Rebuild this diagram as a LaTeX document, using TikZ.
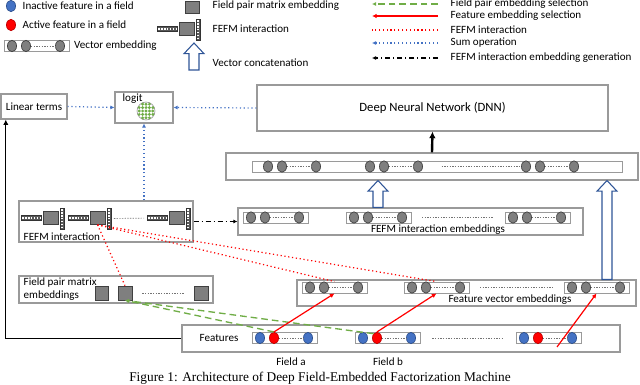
\documentclass[tikz,border=0pt]{standalone}
\usepackage{fontspec}
\setmainfont{Carlito}
\newfontfamily\capfont{Liberation Serif}
\usetikzlibrary{arrows.meta,positioning,shapes.geometric,fit,calc}
\definecolor{Inact}{HTML}{4472C4}
\definecolor{InactD}{HTML}{2F528F}
\definecolor{Act}{HTML}{FF0000}
\definecolor{ActD}{HTML}{C00000}
\definecolor{Emb}{HTML}{7F7F7F}
\definecolor{EmbD}{HTML}{404040}
\definecolor{Frame}{HTML}{9A9A9A}
\definecolor{Sum}{HTML}{4472C4}
\definecolor{Pair}{HTML}{70AD47}
\definecolor{Concat}{HTML}{2F5597}

% three circles of a vector embedding: name, left x, centre y, circle styles
\newcommand{\embcircles}[6]{%
  \node[#4] (#1-1) at (#2+8,#3) {};
  \node[#5] (#1-2) at (#2+22,#3) {};
  \node[#6] (#1-3) at (#2+56,#3) {};
  \draw[gapline] (#1-2) -- (#1-3);
}
% same, inside its own small box
\newcommand{\embgroup}[6]{%
  \node[grpbox,fit={(#2,#3-5.5) (#2+65,#3+5.5)}] (#1) {};
  \embcircles{#1}{#2}{#3}{#4}{#5}{#6}
}
% vector - matrix - vector icon
\newcommand{\fefmicon}[3]{%
  \node[vecbar,fit={(#2,#3-2.5) (#2+20,#3+2.5)}] (#1-bar) {};
  \draw[bardots] (#1-bar.west) -- (#1-bar.east);
  \node[matsq,fit={(#2+22,#3-6.5) (#2+37,#3+6.5)}] (#1-sq) {};
  \node[vecbar,fit={(#2+39,#3-10) (#2+43,#3+11)}] (#1-vb) {};
  \draw[bardots] (#1-vb.north) -- (#1-vb.south);
}
% hollow up arrow from #1 to #2
\newcommand{\blockarrow}[2]{%
  \draw[concat] let \p1=(#1), \p2=(#2) in
    (\x1-3.75pt,\y1) -- (\x1-3.75pt,\y2-8pt) -- (\x1-7.5pt,\y2-8pt) -- (\x2,\y2)
    -- (\x1+7.5pt,\y2-8pt) -- (\x1+3.75pt,\y2-8pt) -- (\x1+3.75pt,\y1) -- cycle;
}

\begin{document}
\begin{tikzpicture}[x=0.75pt,y=-0.75pt,
    every node/.style={font=\fontsize{8.3}{9.8}\selectfont},
    box/.style={draw=Frame,line width=0.8pt,inner sep=0},
    grpbox/.style={draw=Frame,fill=white,line width=0.6pt,inner sep=0},
    dot/.style={ellipse,minimum width=6.8pt,minimum height=8.6pt,inner sep=0,line width=0.5pt},
    inact/.style={dot,draw=InactD,fill=Inact},
    act/.style={dot,draw=ActD,fill=Act},
    emb/.style={dot,draw=EmbD,fill=Emb},
    matsq/.style={draw=EmbD,fill=Emb,line width=0.5pt,inner sep=0},
    vecbar/.style={draw=black!80,fill=black!65,line width=0.4pt,inner sep=0},
    bardots/.style={white,line width=1.2pt,dash pattern=on 1.2pt off 1pt,shorten <=1pt,shorten >=1pt},
    gapline/.style={black!55,line width=0.5pt,dash pattern=on 1pt off 1pt},
    concat/.style={draw=Concat,fill=white,line width=0.8pt},
    pairsel/.style={Pair,line width=1pt,dash pattern=on 5pt off 3pt,-{Latex[length=3pt,width=3pt]}},
    featsel/.style={Act,line width=0.9pt,-{Latex[length=3.5pt,width=3.5pt]}},
    fefmint/.style={Act,line width=0.9pt,dotted},
    sumop/.style={Sum,line width=0.9pt,dotted,-{Latex[length=3pt,width=3pt]}},
    fiegen/.style={black,line width=0.9pt,dash pattern=on 4pt off 2pt on 1pt off 2pt,-{Latex[length=3pt,width=3pt]}},
    todnn/.style={black,line width=1.8pt,-{Latex[length=5pt,width=5pt]}},
    linear/.style={black,line width=0.8pt,-{Latex[length=4pt,width=4pt]}}
  ]
  \useasboundingbox (0,0) rectangle (640,385);

  % legend, left
  \node[inact] (lg-inact) at (11,6) {};
  \node[anchor=west] (lg-inact-t) at (18,6) {Inactive feature in a field};
  \node[act] (lg-act) at (11,25) {};
  \node[anchor=west] (lg-act-t) at (18,25) {Active feature in a field};
  \embgroup{lg-vec}{4}{46}{emb}{emb}{emb}
  \node[anchor=west] (lg-vec-t) at (lg-vec.east) {Vector embedding};
  \node[matsq,fit={(185,1) (199,13)}] (lg-mat) {};
  \node[anchor=west] (lg-mat-t) at (208,6) {Field pair matrix embedding};
  \fefmicon{lg-fefm}{157}{29}
  \node[anchor=west] (lg-fefm-t) at (208,29) {FEFM interaction};
  \coordinate (lg-cat-a) at (194,70);
  \coordinate (lg-cat-b) at (194,43);
  \blockarrow{lg-cat-a}{lg-cat-b}
  \node[anchor=west] (lg-cat-t) at (208,63) {Vector concatenation};

  % legend, right
  \foreach \i/\y in {1/4,2/16,3/30,4/43,5/58} {
    \coordinate (ls\i) at (372,\y);
    \coordinate (le\i) at (438,\y);
  }
  \draw[pairsel] (le1) -- (ls1);
  \draw[featsel] (le2) -- (ls2);
  \draw[fefmint] (le3) -- (ls3);
  \draw[sumop] (le4) -- (ls4);
  \draw[fiegen] (le5) -- (ls5);
  \node[anchor=west,right=6pt of le1] (lt1) {Field pair embedding selection};
  \node[anchor=west,right=6pt of le2] (lt2) {Feature embedding selection};
  \node[anchor=west,right=6pt of le3] (lt3) {FEFM interaction};
  \node[anchor=west,right=6pt of le4] (lt4) {Sum operation};
  \node[anchor=west,right=6pt of le5] (lt5) {FEFM interaction embedding generation};

  % output part
  \node[box,fit={(1,94) (67,119)}] (lin) {};
  \node (lin-t) at (lin.center) {Linear terms};
  \node[box,fit={(115,92) (173,123)}] (logit) {};
  \node[anchor=west] (logit-t) at (118,99) {logit};
  \node[circle,draw=Frame,fill=white,minimum size=13.5pt,inner sep=0,line width=0.5pt] (sum) at (146,111) {};
  \foreach \i in {-2,...,2} \foreach \j in {-2,...,2} {
    \ifnum\numexpr\i*\i+\j*\j\relax<6
      \fill[Pair] (146+\i*3.4,111+\j*3.4) circle (1.2pt);
    \fi
  }
  \node[box,fit={(257,85) (608,131)}] (dnn) {};
  \node[font=\fontsize{9.5}{11}\selectfont] (dnn-t) at (dnn.center) {Deep Neural Network (DNN)};

  % concatenated embeddings
  \node[box,fit={(226,153) (638,180)}] (cat) {};
  \node[grpbox,fit={(252,161) (622,172)}] (catbar) {};
  \embcircles{c1}{260}{166.5}{emb}{emb}{emb}
  \embcircles{c2}{362}{166.5}{emb}{emb}{emb}
  \embcircles{c3}{518}{166.5}{emb}{emb}{emb}
  \draw[gapline,shorten <=14pt] (c2-3) -- (c3-1);

  % FEFM interaction
  \node[box,fit={(19,201) (193,242)}] (fefm) {};
  \fefmicon{i1}{21}{218}
  \fefmicon{i2}{68}{218}
  \fefmicon{i3}{147}{218}
  \draw[gapline,shorten <=2pt,shorten >=2pt] (i2-vb) -- (i3-bar);
  \node[anchor=base west] (fefm-t) at (19,240) {FEFM interaction};

  \node[box,fit={(238,208) (583,235)}] (fie) {};
  \embgroup{e1}{243}{217.5}{emb}{emb}{emb}
  \embgroup{e2}{346}{217.5}{emb}{emb}{emb}
  \embgroup{e3}{505}{217.5}{emb}{emb}{emb}
  \draw[gapline,shorten <=8pt,shorten >=8pt] (e2) -- (e3);
  \node[anchor=base] (fie-t) at (438,233) {FEFM interaction embeddings};

  % field pair matrices
  \node[box,fit={(19,276) (213,303)}] (fpm) {};
  \node[anchor=west,align=left] (fpm-t) at (19,289) {Field pair matrix\\embeddings};
  \node[matsq,fit={(95,286) (108,300)}] (fp1) {};
  \node[matsq,fit={(118,286) (132,300)}] (fp2) {};
  \node[matsq,fit={(194,286) (208,300)}] (fp3) {};
  \draw[gapline,shorten <=7.5pt,shorten >=7.5pt] (fp2) -- (fp3);

  % feature vectors
  \node[box,fit={(297,280) (636,306)}] (fve) {};
  \embgroup{fv1}{302}{287.5}{emb}{emb}{emb}
  \embgroup{fv2}{404}{287.5}{emb}{emb}{emb}
  \embgroup{fv3}{564}{287.5}{emb}{emb}{emb}
  \draw[gapline,shorten <=8pt,shorten >=8pt] (fv2) -- (fv3);
  \node[anchor=base] (fve-t) at (510,302.5) {Feature vector embeddings};

  % input features
  \node[box,fit={(182,325) (620,352)}] (feat) {};
  \node (feat-t) at (219,338) {Features};
  \embgroup{fa}{252}{338}{inact}{act}{inact}
  \embgroup{fb}{355}{338}{inact}{act}{inact}
  \embgroup{fc}{516}{338}{inact}{act}{inact}
  \draw[gapline,shorten <=9pt,shorten >=9pt] (fb) -- (fc);
  \node (field-a) at (291,362) {Field a};
  \node (field-b) at (388,362) {Field b};
  \coordinate (fc-start) at (557,347);

  % connections
  \draw[sumop] (lin.east) -- (logit.west);
  \draw[sumop] (dnn.west) -- (logit.east);
  \draw[sumop] (logit.south |- fefm.north) -- (logit.south);
  \draw[todnn] (cat.north) -- (dnn.south);
  \coordinate (ua1) at (378,0);
  \coordinate (ua2) at (607,0);
  \blockarrow{ua1 |- fie.north}{ua1 |- cat.south}
  \blockarrow{ua2 |- fve.north}{ua2 |- cat.south}
  \draw[fiegen] (fefm.east) -- (fie.west);
  \draw[linear] (feat.west) -| ([xshift=4pt]lin.south west);
  \draw[fefmint] (i2-sq.south) -- (fp2.north);
  \draw[fefmint] (i2-sq.south) -- (fv1.north);
  \draw[fefmint] (i2-sq.south) -- (fv2.north);
  \draw[pairsel] (fa-2.north) -- (fp2.south);
  \draw[pairsel] (fb-2.north west) -- (fp2.south);
  \draw[featsel] (fa-2.north) -- (fv1.south);
  \draw[featsel] (fb-2.north) -- (fv2.south);
  \draw[featsel] (fc-start) -- (fv3.south);

  \node[font=\capfont\fontsize{10}{12}\selectfont,anchor=base] (caption) at (320,381)
    {Figure 1: Architecture of Deep Field-Embedded Factorization Machine};
\end{tikzpicture}
\end{document}
